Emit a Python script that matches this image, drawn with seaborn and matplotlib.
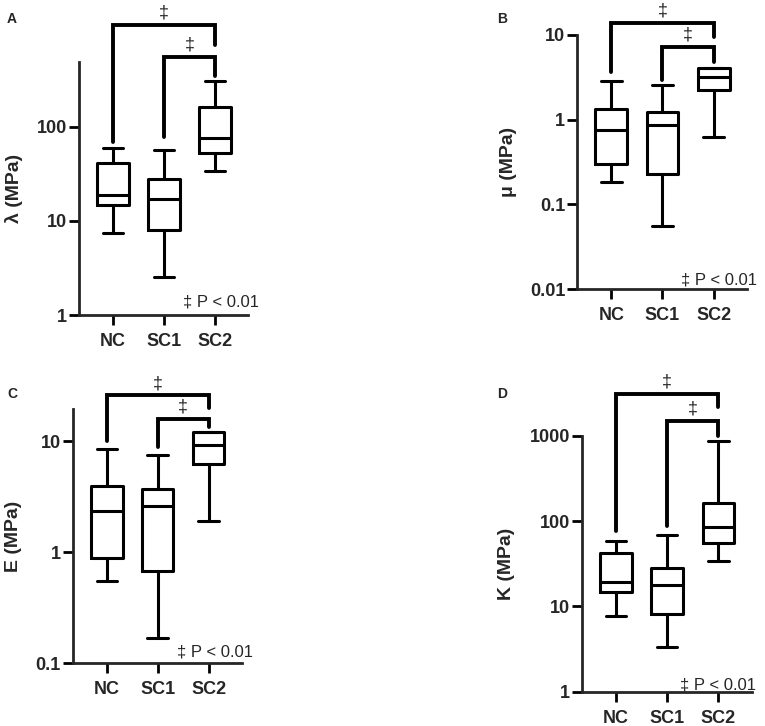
import numpy as np
import pandas as pd
import matplotlib
matplotlib.use("Agg")
import matplotlib.pyplot as plt
from matplotlib.ticker import NullLocator
import seaborn as sns

groups = ["NC", "SC1", "SC2"]

# five-number summaries (min, q1, median, q3, max)
lam_nc = [7.5, 14.7, 19.0, 41.0, 59.0]
lam_sc1 = [2.55, 8.0, 17.3, 27.8, 56.5]
lam_sc2 = [34.0, 53.0, 77.0, 163.0, 305.0]

mu_nc = [0.183, 0.298, 0.757, 1.34, 2.89]
mu_sc1 = [0.0548, 0.229, 0.867, 1.22, 2.57]
mu_sc2 = [0.62, 2.24, 3.17, 4.04, 4.1]

e_nc = [0.557, 0.886, 2.34, 3.98, 8.53]
e_sc1 = [0.17, 0.686, 2.63, 3.74, 7.58]
e_sc2 = [1.9, 6.25, 9.33, 12.1, 12.2]

k_nc = [7.7, 14.9, 19.5, 42.8, 59.0]
k_sc1 = [3.37, 8.08, 17.9, 28.5, 69.0]
k_sc2 = [34.5, 56.0, 84.8, 165.0, 874.0]

# significance brackets: (group a, group b, top, end at a, end at b)
lam_brackets = [(0, 2, 1220, 69, 736), (1, 2, 553, 78, 345)]
mu_brackets = [(0, 2, 14.0, 3.69, 9.4), (1, 2, 7.28, 2.94, 4.76)]
e_brackets = [(0, 2, 26.0, 10.0, 20.0), (1, 2, 15.9, 8.9, 13.5)]
k_brackets = [(0, 2, 3083, 77, 2208), (1, 2, 1500, 88, 1000)]

lam_ticks = [1, 10, 100]
mu_ticks = [0.01, 0.1, 1, 10]
e_ticks = [0.1, 1, 10]
k_ticks = [1, 10, 100, 1000]

sns.set_style("ticks")
plt.rcParams["font.family"] = ["Liberation Sans", "DejaVu Sans"]
plt.rcParams["font.weight"] = "bold"
plt.rcParams["axes.labelweight"] = "bold"

fig = plt.figure(figsize=(7.65, 7.26), dpi=100)

panels = [
    dict(letter="A", vals=[lam_nc, lam_sc1, lam_sc2], label="λ (MPa)",
         ticks=lam_ticks, ylim=(1, 490), brackets=lam_brackets,
         rect=[0.1033, 0.5661, 0.2209, 0.3485], lab_x=-0.33,
         ptxt=(1.065, 0.033), let=(7, 12)),
    dict(letter="B", vals=[mu_nc, mu_sc1, mu_sc2], label="μ (MPa)",
         ticks=mu_ticks, ylim=(0.01, 10), brackets=mu_brackets,
         rect=[0.7542, 0.6019, 0.2222, 0.3499], lab_x=-0.35,
         ptxt=(1.06, 0.016), let=(497, 12)),
    dict(letter="C", vals=[e_nc, e_sc1, e_sc2], label="E (MPa)",
         ticks=e_ticks, ylim=(0.1, 19.5), brackets=e_brackets,
         rect=[0.0950, 0.0864, 0.2209, 0.3499], lab_x=-0.30,
         ptxt=(1.067, 0.025), let=(7, 387)),
    dict(letter="D", vals=[k_nc, k_sc1, k_sc2], label="K (MPa)",
         ticks=k_ticks, ylim=(1, 1000), brackets=k_brackets,
         rect=[0.7604, 0.0474, 0.2222, 0.3522], lab_x=-0.39,
         ptxt=(1.025, 0.01), let=(497, 387)),
]

for p in panels:
    ax = fig.add_axes(p["rect"])
    df = pd.DataFrame({
        "group": np.repeat(groups, 5),
        "value": np.concatenate(p["vals"]),
    })
    sns.boxplot(data=df, x="group", y="value", ax=ax, order=groups,
                whis=(0, 100), fill=False, color="black", linecolor="black",
                width=0.62, linewidth=2.2, log_scale=True, showfliers=False,
                capwidths=0.4)
    ax.set_ylim(*p["ylim"])
    ax.set_xlim(-0.67, 2.65)
    ax.set_yticks(p["ticks"], [f"{t:g}" for t in p["ticks"]])
    ax.yaxis.set_minor_locator(NullLocator())
    ax.set_xlabel("")
    ax.set_ylabel(p["label"], fontsize=14)
    ax.yaxis.set_label_coords(p["lab_x"], 0.5)
    sns.despine(ax=ax)
    for s in ["left", "bottom"]:
        ax.spines[s].set_linewidth(2.0)
    ax.tick_params(axis="both", direction="out", length=7.5, width=2.0,
                   labelsize=13, color="black")
    ax.tick_params(axis="y", pad=1)
    ax.tick_params(axis="x", pad=5.5)

    for a, b, top, ya, yb in p["brackets"]:
        ax.plot([a, a, b, b], [ya, top, top, yb], color="black", lw=2.8,
                solid_capstyle="round", solid_joinstyle="miter", clip_on=False)
        ax.annotate("‡", xy=((a + b) / 2, top), xytext=(0, 8.5),
                    textcoords="offset points", ha="center", va="center",
                    fontsize=13, fontweight="normal", annotation_clip=False)

    ax.text(p["ptxt"][0], p["ptxt"][1], "‡ P < 0.01", transform=ax.transAxes,
            ha="right", va="baseline", fontsize=12, fontweight="normal")
    fig.text(p["let"][0] / 765, 1 - p["let"][1] / 726, p["letter"],
             ha="left", va="top", fontsize=10, fontweight="bold")

fig.savefig("out.png", dpi=100)
